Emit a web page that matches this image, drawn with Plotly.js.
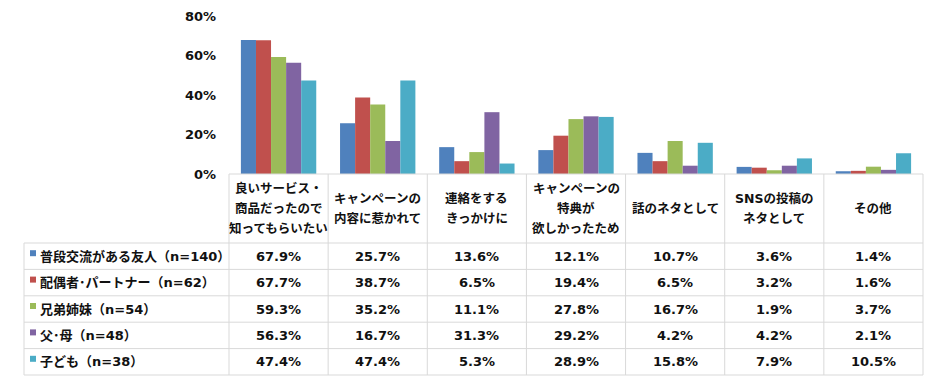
<!DOCTYPE html>
<html>
<head>
<meta charset="utf-8">
<script src="https://cdn.plot.ly/plotly-3.0.1.min.js"></script>
<style>html,body{margin:0;padding:0;background:#fff;}#chart{width:940px;height:383px;}</style>
</head>
<body>
<div id="chart"></div>
<script>
// ---- data ----
const categoryLines = [
  ["良いサービス・", "商品だったので", "知ってもらいたい"],
  ["キャンペーンの", "内容に惹かれて"],
  ["連絡をする", "きっかけに"],
  ["キャンペーンの", "特典が", "欲しかったため"],
  ["話のネタとして"],
  ["SNSの投稿の", "ネタとして"],
  ["その他"]
];
const categories = categoryLines.map(l => l.join(""));
const seriesNames = [
  "普段交流がある友人（n=140）",
  "配偶者･パートナー（n=62）",
  "兄弟姉妹（n=54）",
  "父･母（n=48）",
  "子ども（n=38）"
];
const seriesColors = ["#4F81BD", "#C0504D", "#9BBB59", "#8064A2", "#4BACC6"];
const friends  = [67.9, 25.7, 13.6, 12.1, 10.7, 3.6, 1.4];
const partner  = [67.7, 38.7, 6.5, 19.4, 6.5, 3.2, 1.6];
const siblings = [59.3, 35.2, 11.1, 27.8, 16.7, 1.9, 3.7];
const parents  = [56.3, 16.7, 31.3, 29.2, 4.2, 4.2, 2.1];
const children = [47.4, 47.4, 5.3, 28.9, 15.8, 7.9, 10.5];
const seriesValues = [friends, partner, siblings, parents, children];
const yTickVals = [0, 20, 40, 60, 80];

// ---- layout geometry (pixels) ----
const W = 940, H = 383;
const L = 229, R = 923, T = 16, B = 174;
const pw = R - L, ph = B - T;
const px = x => (x - L) / pw;
const py = y => (B - y) / ph;
const tableLeft = 24;
const headerBottom = 243;
const rowH = 26.4;
const gridColor = "#d9d9d9";
const fontFam = "DejaVu Sans, Noto Sans CJK JP, sans-serif";
const txtColor = "#111";

const traces = seriesNames.map((n, i) => ({
  type: "bar",
  name: n,
  x: categories,
  y: seriesValues[i],
  marker: {color: seriesColors[i]},
  hoverinfo: "skip"
}));

const shapes = [];
const annotations = [];
const line = (x0, y0, x1, y1) => shapes.push({
  type: "line", xref: "paper", yref: "paper",
  x0: px(x0), y0: py(y0), x1: px(x1), y1: py(y1),
  line: {color: gridColor, width: 1}
});

const nRows = seriesNames.length;
const tableBottom = headerBottom + nRows * rowH;
// header top (axis line)
line(L, B, R, B);
// horizontal row lines
for (let r = 0; r <= nRows; r++) {
  const y = headerBottom + r * rowH;
  line(tableLeft, y, R, y);
}
// vertical lines
line(tableLeft, headerBottom, tableLeft, tableBottom);
const colW = pw / categories.length;
for (let c = 0; c <= categories.length; c++) {
  const x = L + c * colW;
  line(x, B, x, tableBottom);
}

// category header labels
categoryLines.forEach((lines, c) => {
  const center = (B + headerBottom) / 2;
  const start = center - (lines.length - 1) * 10;
  lines.forEach((t, k) => {
    annotations.push({
      xref: "x", yref: "paper", x: categories[c], y: py(start + k * 20),
      text: t, showarrow: false, xanchor: "center", yanchor: "middle",
      font: {family: fontFam, size: 12.5, color: txtColor, weight: "bold"}
    });
  });
});

// rows
seriesNames.forEach((n, r) => {
  const cy = headerBottom + r * rowH + rowH / 2;
  shapes.push({
    type: "rect", xref: "paper", yref: "paper",
    x0: px(30), x1: px(36), y0: py(cy - 6), y1: py(cy),
    fillcolor: seriesColors[r], line: {width: 0}
  });
  annotations.push({
    xref: "paper", yref: "paper", x: px(38), y: py(cy),
    text: n, showarrow: false, xanchor: "left", yanchor: "middle",
    font: {family: fontFam, size: 13, color: txtColor, weight: "bold"}
  });
  seriesValues[r].forEach((v, c) => {
    annotations.push({
      xref: "x", yref: "paper", x: categories[c], y: py(cy),
      text: v.toFixed(1) + "%", showarrow: false, xanchor: "center", yanchor: "middle",
      font: {family: fontFam, size: 13, color: txtColor, weight: "bold"}
    });
  });
});

const layout = {
  width: W, height: H,
  margin: {l: L, r: W - R, t: T, b: H - B, pad: 0},
  paper_bgcolor: "#fff", plot_bgcolor: "#fff",
  barmode: "group", bargap: 0.24, bargroupgap: 0,
  showlegend: false,
  xaxis: {
    type: "category", range: [-0.5, categories.length - 0.5],
    showticklabels: false, showgrid: false, zeroline: false, showline: false, ticks: "",
    fixedrange: true
  },
  yaxis: {
    range: [0, 80], tickvals: yTickVals, ticktext: yTickVals.map(v => v + "%"),
    showgrid: false, zeroline: false, showline: false, ticks: "",
    ticklabelstandoff: 12,
    tickfont: {family: fontFam, size: 13, color: txtColor, weight: "bold"},
    fixedrange: true
  },
  shapes: shapes,
  annotations: annotations
};

Plotly.newPlot("chart", traces, layout, {displayModeBar: false, staticPlot: true});
</script>
</body>
</html>
